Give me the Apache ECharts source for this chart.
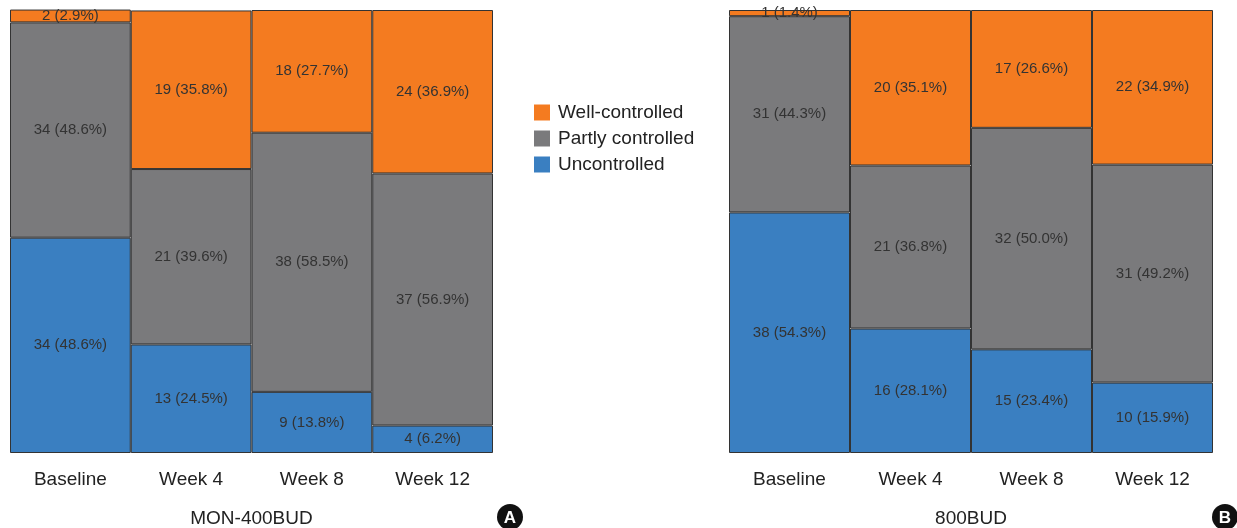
<!DOCTYPE html>
<html>
<head>
<meta charset="utf-8">
<script src="https://cdn.jsdelivr.net/npm/echarts@6/dist/echarts.min.js"></script>
<style>
  html, body { margin: 0; padding: 0; background: #fff; }
  #chart { width: 1237px; height: 528px; }
</style>
</head>
<body>
<div id="chart"></div>
<script>
const categories = ['Baseline', 'Week 4', 'Week 8', 'Week 12'];

// MON-400BUD
const monUnN = [34, 13, 9, 4];
const monUnPct = [48.6, 24.5, 13.8, 6.2];
const monPartN = [34, 21, 38, 37];
const monPartPct = [48.6, 39.6, 58.5, 56.9];
const monWellN = [2, 19, 18, 24];
const monWellPct = [2.9, 35.8, 27.7, 36.9];

// 800BUD
const budUnN = [38, 16, 15, 10];
const budUnPct = [54.3, 28.1, 23.4, 15.9];
const budPartN = [31, 21, 32, 31];
const budPartPct = [44.3, 36.8, 50.0, 49.2];
const budWellN = [1, 20, 17, 22];
const budWellPct = [1.4, 35.1, 26.6, 34.9];

const COLORS = { well: '#F47B20', part: '#7A7A7C', un: '#3A7FC1' };
const FONT = '"Liberation Sans Narrow", "Liberation Sans", sans-serif';

function makeSeries(name, pcts, counts, color, idx) {
  return {
    name: name,
    type: 'bar',
    stack: 'g' + idx,
    xAxisIndex: idx,
    yAxisIndex: idx,
    barCategoryGap: 0,
    data: pcts,
    itemStyle: { color: color, borderColor: '#333', borderWidth: 1 },
    label: {
      show: true,
      position: 'inside',
      color: '#333',
      fontSize: 15,
      fontFamily: FONT,
      formatter: p => counts[p.dataIndex] + ' (' + pcts[p.dataIndex].toFixed(1) + '%)'
    },
    emphasis: { disabled: true }
  };
}

function axisX(idx, title) {
  return {
    type: 'category',
    gridIndex: idx,
    data: categories,
    axisLine: { show: false },
    axisTick: { show: false },
    axisLabel: { color: '#222', fontSize: 19, fontFamily: FONT, margin: 17 },
    name: title,
    nameLocation: 'middle',
    nameGap: 56,
    nameTextStyle: { color: '#222', fontSize: 19, fontFamily: FONT }
  };
}

function axisY(idx) {
  return {
    type: 'value',
    gridIndex: idx,
    min: 0,
    max: 100,
    show: false
  };
}

const chart = echarts.init(document.getElementById('chart'));
chart.setOption({
  animation: false,
  legend: {
    left: 529,
    top: 98,
    orient: 'vertical',
    icon: 'rect',
    itemWidth: 16,
    itemHeight: 16,
    itemGap: 7,
    data: ['Well-controlled', 'Partly controlled', 'Uncontrolled'],
    textStyle: { color: '#222', fontSize: 19, fontFamily: FONT, padding: [0, 0, 0, 3] },
    itemStyle: { borderWidth: 0 }
  },
  grid: [
    { left: 10, top: 10, width: 483, height: 443, outerBoundsMode: 'none' },
    { left: 729, top: 10, width: 484, height: 443, outerBoundsMode: 'none' }
  ],
  xAxis: [axisX(0, 'MON-400BUD'), axisX(1, '800BUD')],
  yAxis: [axisY(0), axisY(1)],
  series: [
    makeSeries('Uncontrolled', monUnPct, monUnN, COLORS.un, 0),
    makeSeries('Partly controlled', monPartPct, monPartN, COLORS.part, 0),
    makeSeries('Well-controlled', monWellPct, monWellN, COLORS.well, 0),
    makeSeries('Uncontrolled', budUnPct, budUnN, COLORS.un, 1),
    makeSeries('Partly controlled', budPartPct, budPartN, COLORS.part, 1),
    makeSeries('Well-controlled', budWellPct, budWellN, COLORS.well, 1)
  ],
  graphic: [
    { type: 'circle', shape: { cx: 510, cy: 517, r: 13 }, style: { fill: '#111' } },
    { type: 'text', x: 510, y: 518, style: { text: 'A', fill: '#fff', fontSize: 17, fontWeight: 'bold', fontFamily: 'Liberation Sans, sans-serif', align: 'center', verticalAlign: 'middle' } },
    { type: 'circle', shape: { cx: 1225, cy: 517, r: 13 }, style: { fill: '#111' } },
    { type: 'text', x: 1225, y: 518, style: { text: 'B', fill: '#fff', fontSize: 17, fontWeight: 'bold', fontFamily: 'Liberation Sans, sans-serif', align: 'center', verticalAlign: 'middle' } }
  ]
});
</script>
</body>
</html>
